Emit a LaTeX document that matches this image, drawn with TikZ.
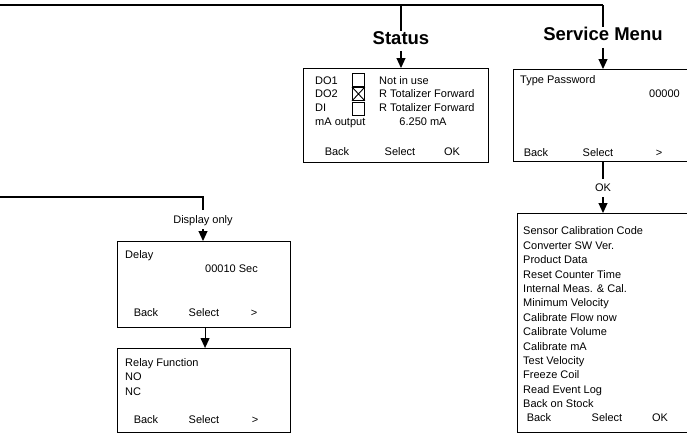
\documentclass[tikz,border=0pt]{standalone}
\usepackage{fontspec}
\setmainfont{Liberation Sans}
\usetikzlibrary{arrows.meta}
\tikzset{
  ln/.style={line width=1.1pt},
  arr/.style={ln,-{Triangle[length=10pt,width=9pt]}},
  scr/.style={draw,line width=1.1pt,anchor=north west,inner sep=0pt},
  txt/.style={inner sep=0pt,font=\fontsize{11}{13}\selectfont,text height=7.9pt,text depth=0pt},
  ttl/.style={inner sep=0pt,font=\fontsize{18.5}{22}\selectfont\bfseries,text height=13.2pt,text depth=0pt},
  cb/.style={draw,line width=0.9pt,anchor=north west,inner sep=0pt,minimum width=12pt,minimum height=13pt}
}
\begin{document}
\begin{tikzpicture}[x=1pt,y=-1pt]
\useasboundingbox (0,0) rectangle (687,434);
\clip (0,0) rectangle (687,434);
% top bus
\coordinate (t0) at (0,5);
\coordinate (tS) at (401,5);
\coordinate (tM) at (603,5);
\draw[ln] (t0) -- (tM);
% Status
\node[ttl] (stl) at (401,38) {Status};
\node[scr,minimum width=185pt,minimum height=94pt] (status) at (303,68) {};
\draw[ln] (tS) -- (stl.north);
\draw[arr] (stl.south) ++(0,6) -- (status.north -| stl);
% Service menu
\node[ttl] (sml) at (603,34) {Service Menu};
\node[scr,minimum width=200pt,minimum height=92pt] (serv) at (513,69) {};
\draw[ln] (tM) -- (sml.north);
\draw[arr] (sml.south) ++(0,7) -- (serv.north -| sml);
% OK connector
\node[txt] (okl) at (603,188) {OK};
\node[scr,minimum width=200pt,minimum height=219pt] (big) at (517,213) {};
\draw[ln] (serv.south -| okl) -- ([yshift=5pt]okl.north);
\draw[arr] ([yshift=-5pt]okl.south) -- (big.north -| okl);
% left bus
\coordinate (l0) at (0,197);
\coordinate (l1) at (203,197);
\node[txt] (dol) at (203,220) {Display only};
\node[scr,minimum width=173pt,minimum height=86pt] (delay) at (117,241) {};
\node[scr,minimum width=173pt,minimum height=84pt] (relay) at (117,348) {};
\draw[ln] (l0) -- (l1) -- ([yshift=6pt]dol.north);
\draw[arr] ([yshift=-5pt]dol.south) -- (delay.north -| dol);
\draw[arr] (delay.south) ++(1,0) -- ([xshift=1pt]relay.north);
% Status box contents
\node[txt,anchor=west] at (315,81) {DO1};
\node[txt,anchor=west] at (315,94) {DO2};
\node[txt,anchor=west] at (315,108) {DI};
\node[txt,anchor=west] at (315,122) {mA output};
\node[cb] (c1) at (352,73) {};
\node[cb] (c2) at (352,87) {};
\node[cb] (c3) at (352,102) {};
\draw[line width=0.9pt] (c2.north west) -- (c2.south east) (c2.north east) -- (c2.south west);
\node[txt,anchor=west] at (379,81) {Not in use};
\node[txt,anchor=west] at (379,94) {R Totalizer Forward};
\node[txt,anchor=west] at (379,108) {R Totalizer Forward};
\node[txt] at (423,122) {6.250 mA};
\node[txt] at (337,152) {Back};
\node[txt] at (400,152) {Select};
\node[txt] at (452,152) {OK};
% Service box contents
\node[txt,anchor=west] at (520,80) {Type Password};
\node[txt,anchor=east] at (680,94) {00000};
\node[txt] at (536,153) {Back};
\node[txt] at (598,153) {Select};
\node[txt] at (659,153) {>};
% Big list
\foreach \t [count=\i from 0] in {Sensor Calibration Code,Converter SW Ver.,Product Data,Reset Counter Time,Internal Meas. \& Cal.,Minimum Velocity,Calibrate Flow now,Calibrate Volume,Calibrate mA,Test Velocity,Freeze Coil,Read Event Log,Back on Stock}
  \node[txt,anchor=west] at (523,231+14.4*\i) {\t};
\node[txt] at (539,418) {Back};
\node[txt] at (607,418) {Select};
\node[txt] at (660,418) {OK};
% Delay box
\node[txt,anchor=west] at (125,255) {Delay};
\node[txt,anchor=east] at (258,269) {00010 Sec};
\node[txt] at (146,313) {Back};
\node[txt] at (204,313) {Select};
\node[txt] at (254,313) {>};
% Relay box
\node[txt,anchor=west] at (125,363) {Relay Function};
\node[txt,anchor=west] at (125,377) {NO};
\node[txt,anchor=west] at (125,392) {NC};
\node[txt] at (146,420) {Back};
\node[txt] at (204,420) {Select};
\node[txt] at (255,420) {>};
\end{tikzpicture}
\end{document}
